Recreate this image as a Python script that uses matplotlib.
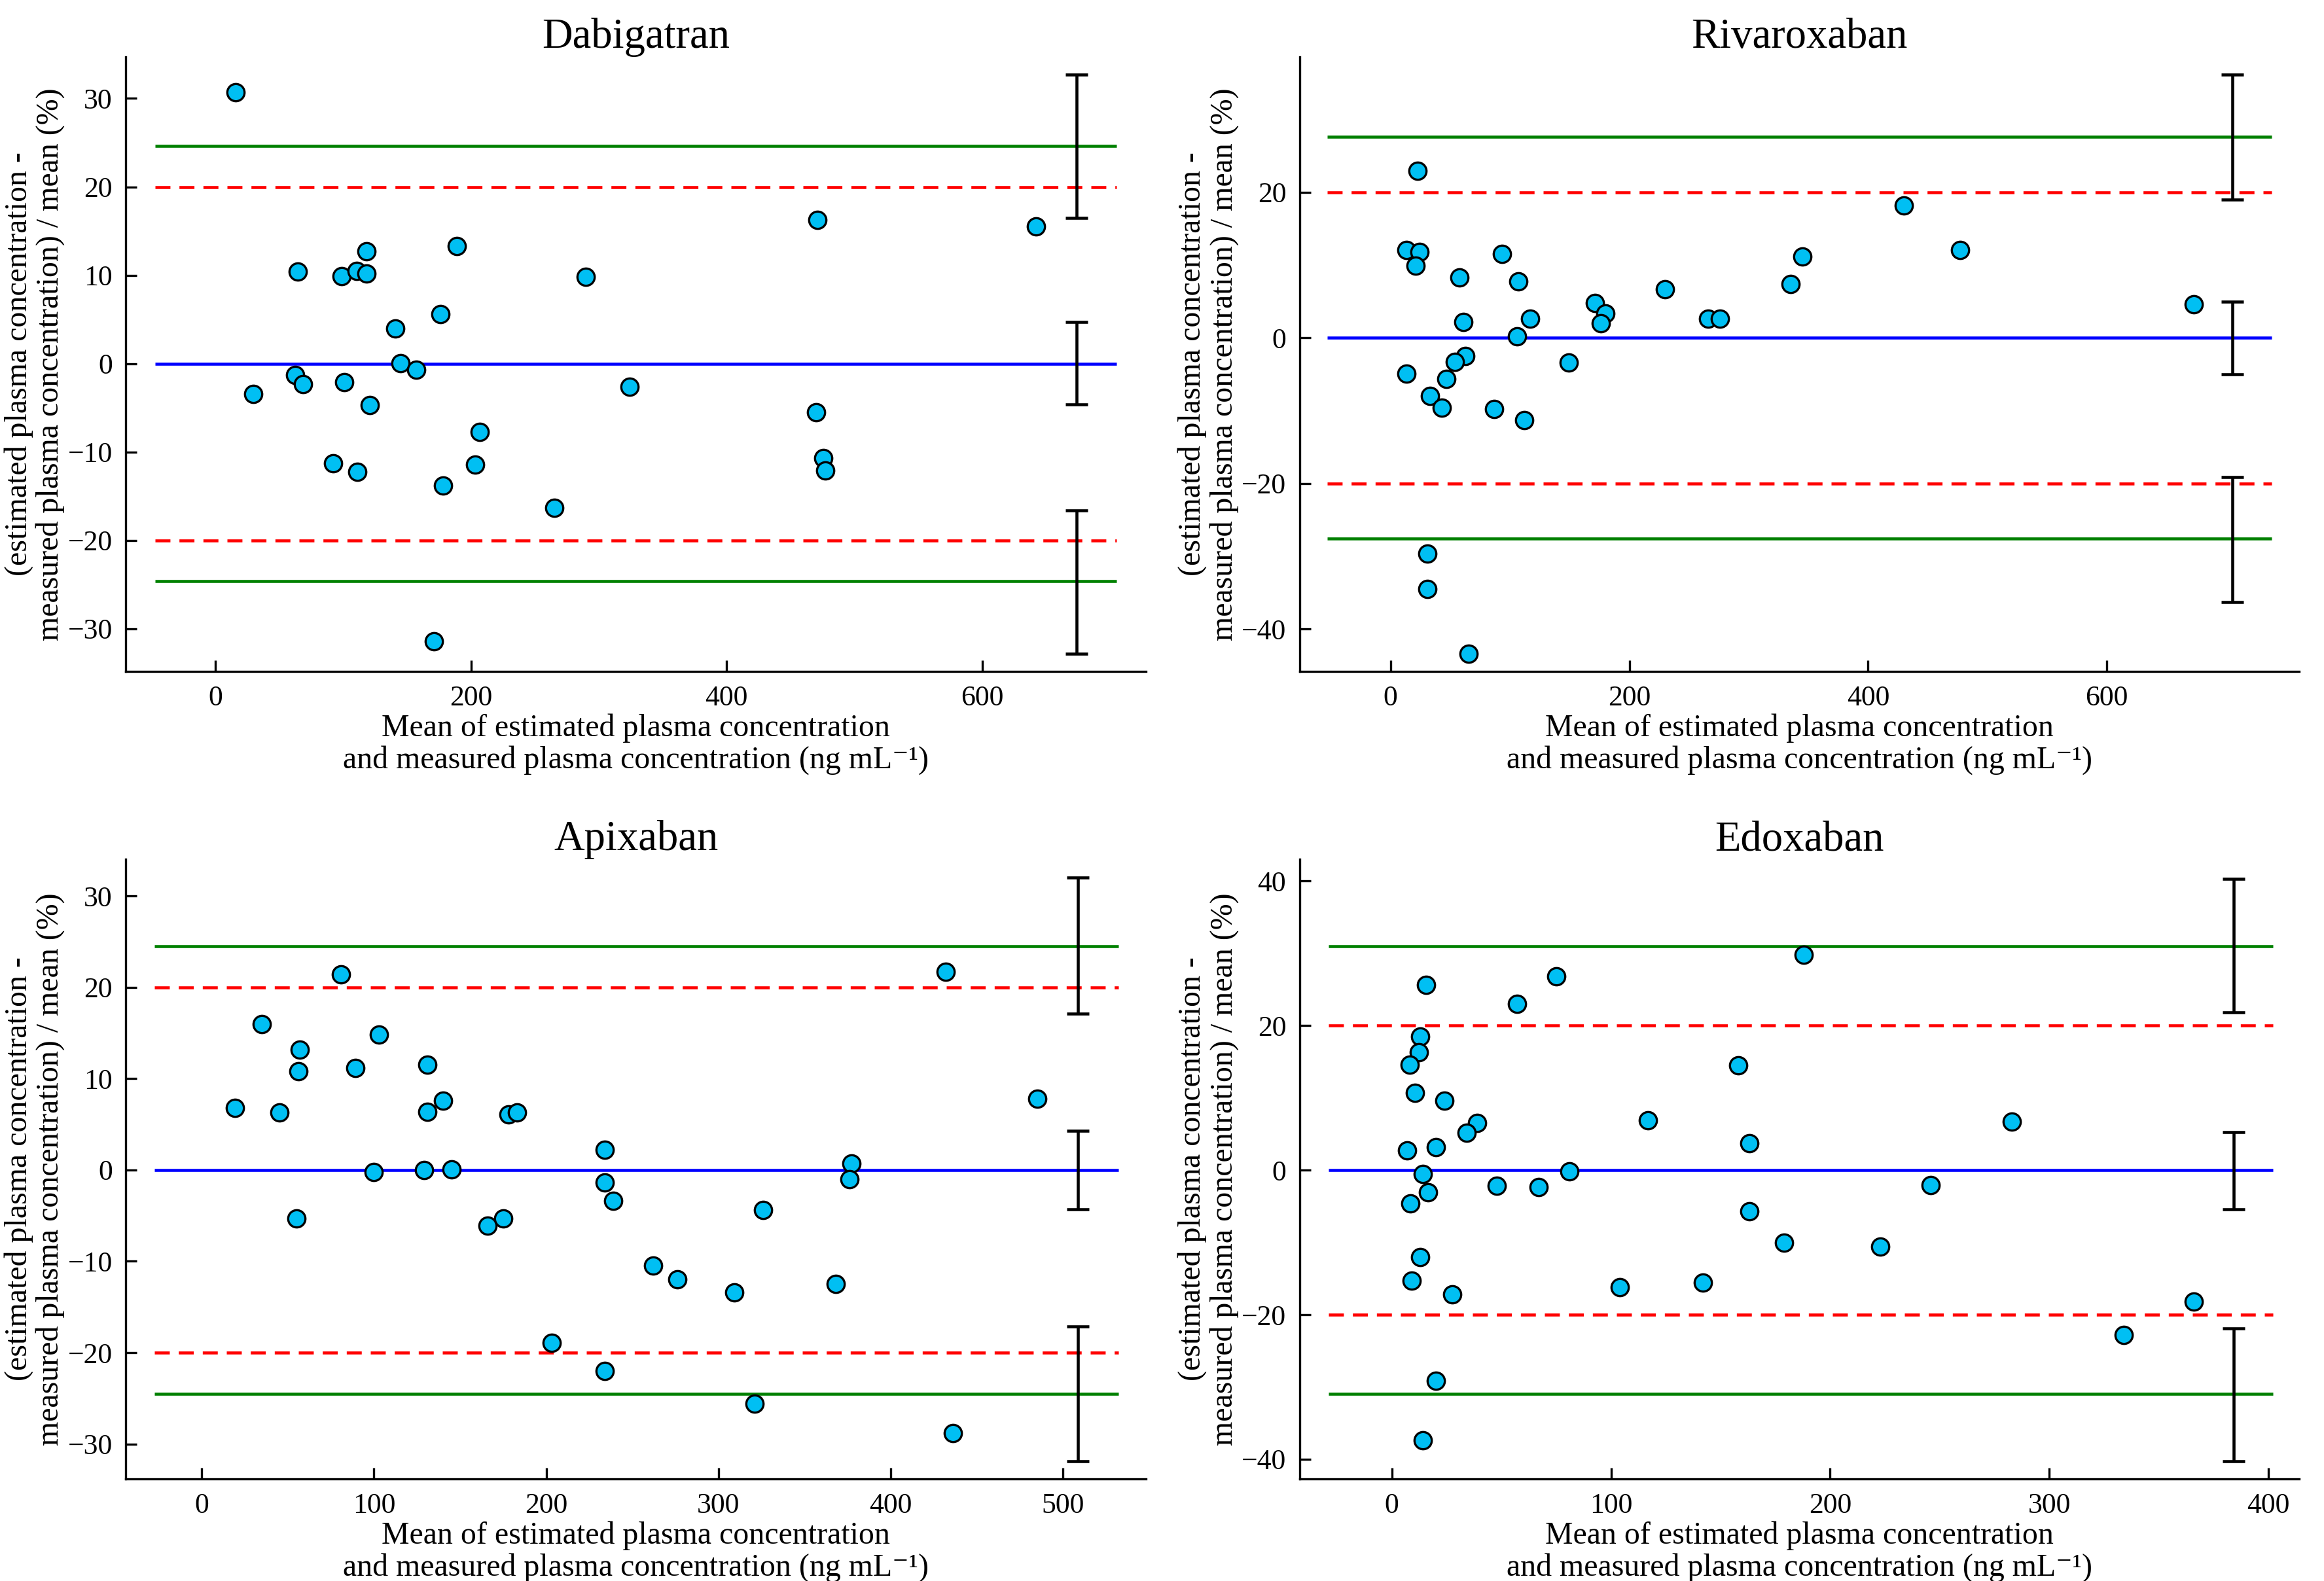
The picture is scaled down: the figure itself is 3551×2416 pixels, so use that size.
import numpy as np
import matplotlib
matplotlib.use('Agg')
import matplotlib.pyplot as plt

plt.rcParams['font.family'] = ['Liberation Serif', 'DejaVu Serif']
plt.rcParams['font.size'] = 11

# Dabigatran
dab_x = [15.6, 29.7, 62.6, 64.6, 68.8, 92, 99, 101, 110.5, 111, 118, 118, 121, 141, 145, 157,
         171, 176, 178, 189, 203, 207, 265, 290, 324, 471, 470, 475.5, 477, 642]
dab_y = [30.7, -3.4, -1.3, 10.4, -2.3, -11.3, 9.9, -2.1, 10.5, -12.2, 12.7, 10.2, -4.7, 4.0, 0.05, -0.7,
         -31.4, 5.6, -13.8, 13.3, -11.4, -7.7, -16.3, 9.8, -2.6, 16.3, -5.5, -10.7, -12.1, 15.5]
dab_loa = 24.6
dab_ci = [(16.5, 32.7), (-4.6, 4.7), (-32.8, -16.6)]

# Rivaroxaban
riv_x = [13.4, 24, 21, 22.6, 57.5, 93.5, 107, 61, 106, 117, 171, 180, 176, 230, 266, 276, 335, 345,
         430, 477, 672.6, 62.4, 54, 13.4, 47, 149, 33, 43, 87, 112, 31, 31, 65.6]
riv_y = [12.1, 11.8, 9.9, 23.0, 8.3, 11.5, 7.8, 2.2, 0.2, 2.6, 4.8, 3.4, 2.0, 6.7, 2.6, 2.6, 7.4, 11.2,
         18.2, 12.1, 4.6, -2.5, -3.3, -4.9, -5.6, -3.4, -8.0, -9.6, -9.8, -11.3, -29.6, -34.5, -43.4]
riv_loa = 27.6
riv_ci = [(19.0, 36.2), (-5.0, 5.0), (-36.3, -19.1)]

# Apixaban
api_x = [19.4, 35, 45, 57, 56, 55, 81, 89, 103, 100, 131, 131, 129, 140, 145, 166, 175, 178, 183,
         203, 234, 234, 239, 234, 262, 276, 309, 321, 326, 368, 377, 376, 432, 436, 485]
api_y = [6.8, 16.0, 6.3, 13.2, 10.8, -5.3, 21.4, 11.2, 14.8, -0.2, 11.5, 6.4, 0.0, 7.6, 0.1, -6.1, -5.3, 6.1, 6.3,
         -18.9, 2.2, -1.4, -3.4, -22.0, -10.5, -12.0, -13.4, -25.6, -4.4, -12.5, 0.7, -1.0, 21.7, -28.8, 7.8]
api_loa = 24.5
api_ci = [(17.1, 32.0), (-4.3, 4.3), (-31.9, -17.1)]

# Edoxaban
edo_x = [15.5, 57, 75, 188, 13, 12.3, 8, 10.5, 24, 39, 34, 20, 7, 14, 16.4, 8.5, 48, 67, 81, 117,
         158, 163, 163, 179, 223, 246, 283, 13, 9, 27.5, 104, 142, 366, 334, 20, 14]
edo_y = [25.6, 23.0, 26.8, 29.8, 18.5, 16.3, 14.6, 10.7, 9.6, 6.5, 5.2, 3.2, 2.7, -0.5, -3.1, -4.6, -2.2, -2.3, -0.2, 6.9,
         14.5, 3.7, -5.7, -10.0, -10.6, -2.1, 6.7, -12.0, -15.3, -17.2, -16.2, -15.6, -18.2, -22.8, -29.1, -37.4]
edo_loa = 31.0
edo_ci = [(21.8, 40.3), (-5.4, 5.3), (-40.3, -21.9)]

ylab = '(estimated plasma concentration -\nmeasured plasma concentration) / mean (%)'
xlab = 'Mean of estimated plasma concentration\nand measured plasma concentration (ng mL\u207b\u00b9)'


def bland_altman(ax, title, x, y, loa, ci, xlim, line_x, ci_x, ylim, xticks, yticks):
    ax.hlines([loa, -loa], *line_x, color='green', lw=1.1)
    ax.hlines([20, -20], *line_x, color='red', lw=1.1, linestyle=(0, (5, 3)))
    ax.hlines(0, *line_x, color='blue', lw=1.1)
    for lo, hi in ci:
        ax.errorbar(ci_x, (lo + hi) / 2, yerr=(hi - lo) / 2, color='black', lw=1.1,
                    capsize=4, capthick=1.1)
    ax.scatter(x, y, s=40, facecolor='#00BFF3', edgecolor='black', linewidth=0.8, zorder=5)
    ax.set_xlim(*xlim)
    ax.set_ylim(*ylim)
    ax.set_xticks(xticks)
    ax.set_yticks(yticks)
    ax.tick_params(direction='in', length=4, labelsize=10.5, pad=5)
    for s in ['top', 'right']:
        ax.spines[s].set_visible(False)
    ax.set_title(title, fontsize=15.5, pad=3)
    ax.set_xlabel(xlab, fontsize=11.5, labelpad=1, linespacing=1.1)
    ax.set_ylabel(ylab, fontsize=11.5, labelpad=1, linespacing=1.1)


fig = plt.figure(figsize=(3551 / 300, 2416 / 300), dpi=300)
ax1 = fig.add_axes([0.0542, 0.5754, 0.4388, 0.3886])
ax2 = fig.add_axes([0.5593, 0.5754, 0.4300, 0.3886])
ax3 = fig.add_axes([0.0542, 0.0647, 0.4388, 0.3917])
ax4 = fig.add_axes([0.5593, 0.0647, 0.4300, 0.3917])

bland_altman(ax1, 'Dabigatran', dab_x, dab_y, dab_loa, dab_ci, (-70, 728), (-47, 705), 674,
             (-34.8, 34.7), [0, 200, 400, 600], [-30, -20, -10, 0, 10, 20, 30])
bland_altman(ax2, 'Rivaroxaban', riv_x, riv_y, riv_loa, riv_ci, (-76, 761), (-53, 738), 705,
             (-45.8, 38.6), [0, 200, 400, 600], [-40, -20, 0, 20])
bland_altman(ax3, 'Apixaban', api_x, api_y, api_loa, api_ci, (-44, 548), (-27.5, 532), 508.5,
             (-33.8, 34.0), [0, 100, 200, 300, 400, 500], [-30, -20, -10, 0, 10, 20, 30])
bland_altman(ax4, 'Edoxaban', edo_x, edo_y, edo_loa, edo_ci, (-42, 414), (-29, 402), 384,
             (-42.7, 43.0), [0, 100, 200, 300, 400], [-40, -20, 0, 20, 40])

fig.savefig('out.png', dpi=300)
